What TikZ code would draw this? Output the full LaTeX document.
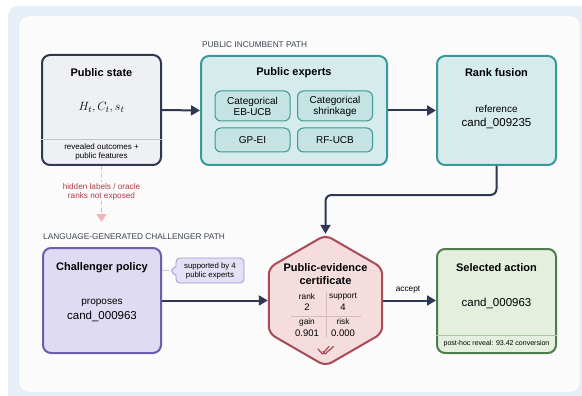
\documentclass[tikz,border=0pt]{standalone}
\usepackage{fontspec}
\setmainfont{Liberation Sans}
\usetikzlibrary{arrows.meta,shapes.geometric,shapes.callouts}
\definecolor{navy}{HTML}{2E3850}
\definecolor{framebg}{HTML}{E6EEF8}
\definecolor{panelbg}{HTML}{FBFBFC}
\definecolor{panelline}{HTML}{DCE4EE}
\definecolor{statefill}{HTML}{EEF0F4}
\definecolor{tealfill}{HTML}{D6ECEC}
\definecolor{tealline}{HTML}{3A9898}
\definecolor{tealinner}{HTML}{C4E3E2}
\definecolor{chalfill}{HTML}{DFDBF3}
\definecolor{challine}{HTML}{6A5EAE}
\definecolor{callfill}{HTML}{E4E0F5}
\definecolor{callline}{HTML}{A196D6}
\definecolor{calllink}{HTML}{CCC4EA}
\definecolor{hexfill}{HTML}{F5DDDE}
\definecolor{hexline}{HTML}{A94A55}
\definecolor{hexgrid}{HTML}{D8B9BC}
\definecolor{selfill}{HTML}{E4F0DD}
\definecolor{selline}{HTML}{4E7E4E}
\definecolor{seldiv}{HTML}{A9C6A2}
\definecolor{statediv}{HTML}{BFC4CD}
\definecolor{hidred}{HTML}{B03A48}
\definecolor{hidline}{HTML}{F0B4BA}
\definecolor{pathgray}{HTML}{3C4250}
\begin{document}
\begin{tikzpicture}[x=1pt,y=-1pt,
  box/.style={draw, line width=2pt, rounded corners=8pt, inner sep=0pt},
  inbox/.style={draw=tealline, fill=tealinner, line width=1pt, rounded corners=6pt, inner sep=0pt, minimum width=75pt, align=center, font=\fontsize{10}{11}\selectfont},
  ttl/.style={font=\bfseries\fontsize{11}{13}\selectfont, inner sep=0pt, align=center},
  small/.style={font=\fontsize{10}{12}\selectfont, inner sep=0pt},
  cand/.style={font=\fontsize{11.5}{13}\selectfont, inner sep=0pt},
  foot/.style={font=\fontsize{8}{9}\selectfont, inner sep=0pt, align=center},
  pathlbl/.style={font=\fontsize{8.3}{10}\selectfont, text=pathgray, inner sep=0pt, anchor=west},
  cell/.style={font=\fontsize{8.3}{10}\selectfont, inner sep=0pt},
  cellv/.style={font=\fontsize{9.5}{11}\selectfont, inner sep=0pt},
  arr/.style={draw=navy, line width=2pt, -{Triangle[length=9pt,width=10pt]}},
]
\useasboundingbox (0,0) rectangle (582,396);
\fill[white] (0,0) rectangle (582,396);
\fill[framebg, rounded corners=10pt] (8,6) rectangle (600,412);
\draw[panelline, fill=panelbg, rounded corners=8pt] (19,16) rectangle (580,392);

% Public state
\node[box, draw=navy, fill=statefill, minimum width=119pt, minimum height=110pt] (state) at (101.5,110) {};
\draw[statediv, line width=0.8pt] (state.west |- 0,139) -- (state.east |- 0,139);
\node[ttl] (stateT) at (101.5,73) {Public state};
\node[inner sep=0pt] (stateM) at (101.5,108) {\fontsize{12.5}{14}\selectfont $H_t, C_t, s_t$};
\node[foot] (stateF) at (101.5,151.5) {revealed outcomes +\\public features};

% Public experts
\node[pathlbl] (incLbl) at (202,45) {PUBLIC INCUMBENT PATH};
\node[box, draw=tealline, fill=tealfill, minimum width=186pt, minimum height=109pt] (experts) at (294,110.5) {};
\node[ttl] (expT) at (294,73) {Public experts};
\node[inbox, minimum height=30pt] (eb) at (252.5,106) {Categorical\\EB-UCB};
\node[inbox, minimum height=30pt] (shr) at (335,106) {Categorical\\shrinkage};
\node[inbox, minimum height=24pt] (gp) at (252.5,140) {GP-EI};
\node[inbox, minimum height=24pt] (rf) at (335,140) {RF-UCB};

% Rank fusion
\node[box, draw=tealline, fill=tealfill, minimum width=119pt, minimum height=109pt] (rank) at (496.5,110.5) {};
\node[ttl] (rankT) at (496.5,73) {Rank fusion};
\node[small] (rankR) at (496.5,109) {reference};
\node[cand] (rankC) at (496.5,123) {cand\_009235};

% Hidden labels
\node[font=\fontsize{8.2}{9.2}\selectfont, text=hidred, align=center, inner sep=1pt] (hidden) at (101.5,191.5) {hidden labels / oracle\\ranks not exposed};
\coordinate (hidtip) at (101.5,222);
\draw[hidline, line width=1pt, dash pattern=on 4pt off 3pt] (state.south) -- (hidden.north);
\draw[hidline, line width=1pt, dash pattern=on 4pt off 3pt, -{Triangle[length=8pt,width=10pt,fill=hidline]}] (hidden.south) -- (hidtip);

% Challenger
\node[pathlbl] (chalLbl) at (43,237) {LANGUAGE-GENERATED CHALLENGER PATH};
\node[box, draw=challine, fill=chalfill, minimum width=118pt, minimum height=105pt] (chal) at (102,300.5) {};
\node[ttl] (chalT) at (102,268) {Challenger policy};
\node[small] (chalP) at (102,303) {proposes};
\node[cand] (chalC) at (102,316) {cand\_000963};

% Callout
\node[rectangle callout, draw=callline, fill=callfill, line width=0.8pt, rounded corners=4pt,
  minimum width=68pt, minimum height=25pt, inner sep=0pt, align=center,
  font=\fontsize{7.8}{9}\selectfont, callout absolute pointer={(169.5,270.5)}, callout pointer width=9pt] (call) at (210,270.5) {supported by 4\\public experts};
\draw[calllink, line width=1pt] (chal.east |- call.pointer) -- (call.pointer);

% Hexagon certificate
\node[regular polygon, regular polygon sides=6, shape border rotate=30, draw=hexline, fill=hexfill,
  line width=2pt, rounded corners=7pt, minimum size=131pt, inner sep=0pt] (hex) at (325.5,300.5) {};
\node[ttl, font=\bfseries\fontsize{11}{13.5}\selectfont] (hexT) at (325.5,274) {Public-evidence\\certificate};
\draw[hexgrid, line width=0.8pt] (326,292) -- (326,338);
\draw[hexgrid, line width=0.8pt] (291,316) -- (361,316);
\node[cell] (rankL) at (307,297) {rank};
\node[cellv] (rankV) at (307,307.5) {2};
\node[cell] (suppL) at (343,297) {support};
\node[cellv] (suppV) at (343,307.5) {4};
\node[cell] (gainL) at (307,322) {gain};
\node[cellv] (gainV) at (307,333) {0.901};
\node[cell] (riskL) at (343,322) {risk};
\node[cellv] (riskV) at (343,333) {0.000};
\draw[hexline, line width=1.2pt, line cap=round, line join=round] (318,349) -- (322.5,354) -- (329,346.5);
\draw[hexline, line width=1.2pt, line cap=round, line join=round] (323,351.5) -- (325,354) -- (333.5,346.5);

% Selected action
\node[box, draw=selline, fill=selfill, minimum width=119pt, minimum height=104pt] (sel) at (496.5,301) {};
\draw[seldiv, line width=0.8pt] (sel.west |- 0,335) -- (sel.east |- 0,335);
\node[ttl] (selT) at (496.5,268) {Selected action};
\node[cand] (selC) at (496.5,303) {cand\_000963};
\node[font=\fontsize{7}{8}\selectfont, inner sep=0pt] (selF) at (496.5,343.5) {post-hoc reveal: 93.42 conversion};

% Connectors
\draw[arr] (state.east) -- (experts.west);
\draw[arr] (experts.east) -- (rank.west);
\draw[arr, rounded corners=6pt] (rank.south) -- (rank.south |- 0,195) -- (hex.north |- 0,195) -- (hex.north);
\draw[arr] (chal.east) -- (hex.west);
\draw[arr] (hex.east) -- node[font=\fontsize{8.3}{10}\selectfont, inner sep=0pt, pos=0.47, yshift=11pt] (acc) {accept} (sel.west |- hex.east);
\end{tikzpicture}
\end{document}
